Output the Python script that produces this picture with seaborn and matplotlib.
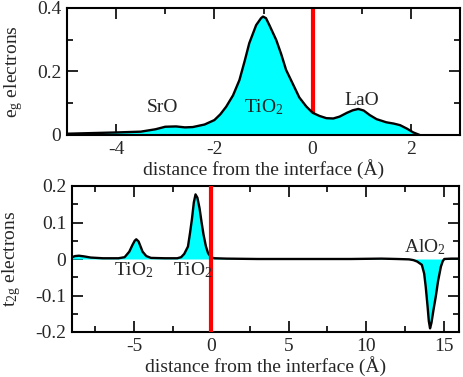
import numpy as np
import pandas as pd
import matplotlib
matplotlib.use("Agg")
import matplotlib.pyplot as plt
import seaborn as sns
from matplotlib.ticker import MultipleLocator, FuncFormatter

sns.set_style("ticks")
plt.rcParams['font.family'] = ['Liberation Serif', 'DejaVu Serif']
plt.rcParams['mathtext.fontset'] = 'custom'
plt.rcParams['mathtext.rm'] = 'Liberation Serif'
plt.rcParams['mathtext.it'] = 'Liberation Serif:italic'

# e_g electrons (top panel)
eg_x = [-5.0, -4.5, -4.0, -3.5, -3.2, -3.0, -2.78, -2.6, -2.44, -2.2, -2.0, -1.88, -1.76, -1.62,
        -1.49, -1.38, -1.29, -1.15, -1.05, -1.01, -0.95, -0.88, -0.74, -0.64, -0.54, -0.4,
        -0.27, -0.13, 0.0, 0.14, 0.28, 0.42, 0.55, 0.7, 0.82, 0.93, 1.04, 1.16, 1.3, 1.5,
        1.65, 1.78, 1.92, 2.05, 2.18]
eg_y = [0.004, 0.006, 0.008, 0.0105, 0.018, 0.026, 0.027, 0.024, 0.025, 0.033, 0.047, 0.065,
        0.089, 0.125, 0.173, 0.235, 0.289, 0.346, 0.368, 0.373, 0.368, 0.346, 0.299, 0.255,
        0.205, 0.16, 0.118, 0.09, 0.07, 0.06, 0.053, 0.052, 0.058, 0.07, 0.078, 0.082, 0.077,
        0.063, 0.05, 0.04, 0.036, 0.031, 0.02, 0.008, 0.0]

# t2g electrons (bottom panel)
t2g_x = [-9.0, -8.8, -8.55, -8.2, -7.8, -7.0, -6.0, -5.6, -5.3, -5.1, -4.95, -4.85, -4.7,
         -4.55, -4.44, -4.2, -3.9, -3.0, -2.2, -1.95, -1.75, -1.51, -1.38, -1.25, -1.13,
         -1.02, -0.9, -0.76, -0.62, -0.5, -0.35, -0.21, 0.0, 0.2, 1.0, 3.0, 6.0, 9.0, 11.0,
         12.0, 12.77, 13.05, 13.3, 13.6, 13.75, 13.85, 13.97, 14.05, 14.13, 14.22, 14.35,
         14.5, 14.65, 14.83, 14.95, 15.05, 15.5, 16.0]
t2g_y = [0.005, 0.008, 0.009, 0.007, 0.004, 0.002, 0.002, 0.005, 0.02, 0.038, 0.05, 0.054,
         0.048, 0.032, 0.02, 0.008, 0.003, 0.002, 0.002, 0.005, 0.014, 0.034, 0.07, 0.11,
         0.155, 0.177, 0.168, 0.139, 0.098, 0.066, 0.035, 0.016, 0.004, 0.002, 0.001, 0.0,
         0.0, 0.0, 0.001, 0.0, -0.001, -0.003, -0.007, -0.016, -0.04, -0.076, -0.13, -0.17,
         -0.19, -0.175, -0.14, -0.103, -0.06, -0.021, -0.006, 0.0, 0.001, 0.001]

top_labels = [("SrO", -3.05, 0.088), ("TiO$_2$", -1.0, 0.088), ("LaO", 1.0, 0.11)]
bot_labels = [("TiO$_2$", -5.0, -0.03), ("TiO$_2$", -1.2, -0.03), ("AlO$_2$", 13.8, 0.033)]

W, H = 463, 377
fig = plt.figure(figsize=(W / 100, H / 100), dpi=100)
ax1 = fig.add_axes([67 / W, 1 - 135 / H, (460 - 67) / W, (135 - 8) / H])
ax2 = fig.add_axes([72 / W, 1 - 332 / H, (459 - 72) / W, (332 - 186) / H])

fs = 14
cyan = "#00ffff"

def fmt(v, pos):
    if abs(v) < 1e-9:
        return "0"
    return ("%g" % v)

def style(ax, xmaj, xmin, ymaj, ymin):
    ax.xaxis.set_major_locator(MultipleLocator(xmaj))
    ax.xaxis.set_minor_locator(MultipleLocator(xmin))
    ax.yaxis.set_major_locator(MultipleLocator(ymaj))
    ax.yaxis.set_minor_locator(MultipleLocator(ymin))
    ax.yaxis.set_major_formatter(FuncFormatter(fmt))
    ax.xaxis.set_major_formatter(FuncFormatter(fmt))
    ax.tick_params(which='both', direction='in', top=True, right=True, labelsize=fs,
                   width=1.2, color='black', pad=4)
    ax.tick_params(which='major', length=8)
    ax.tick_params(which='minor', length=4)
    for s in ax.spines.values():
        s.set_linewidth(1.5)
        s.set_visible(True)
        s.set_color('black')

# top
df1 = pd.DataFrame({"x": eg_x, "y": eg_y})
ax1.axvline(0, color='red', lw=3, zorder=1)
ax1.fill_between(eg_x, eg_y, 0, color=cyan, zorder=2, lw=0)
sns.lineplot(data=df1, x="x", y="y", ax=ax1, color='black', lw=1.7, zorder=3)
ax1.set_xlim(-5, 3)
ax1.set_ylim(0, 0.4)
style(ax1, 2, 1, 0.2, 0.1)
ax1.set_xlabel("distance from the interface (Å)", fontsize=fs, labelpad=1)
ax1.set_ylabel("e$_\\mathrm{g}$ electrons", fontsize=fs)
ax1.yaxis.set_label_coords(-(67 - 25) / (460 - 67), 0.5)
for t, x, y in top_labels:
    ax1.text(x, y, t, fontsize=fs, ha='center', va='center', zorder=4)

# bottom
df2 = pd.DataFrame({"x": t2g_x, "y": t2g_y})
ax2.fill_between(t2g_x, t2g_y, 0, color=cyan, zorder=2, lw=0)
sns.lineplot(data=df2, x="x", y="y", ax=ax2, color='black', lw=1.7, zorder=3)
ax2.axvline(0, color='red', lw=3, zorder=4)
ax2.set_xlim(-9, 16)
ax2.set_ylim(-0.2, 0.2)
style(ax2, 5, 2.5, 0.1, 0.05)
ax2.set_xlabel("distance from the interface (Å)", fontsize=fs, labelpad=1)
ax2.set_ylabel("t$_\\mathrm{2g}$ electrons", fontsize=fs)
ax2.yaxis.set_label_coords(-(72 - 23) / (459 - 72), 0.5)
for t, x, y in bot_labels:
    ax2.text(x, y, t, fontsize=fs, ha='center', va='center', zorder=5)

fig.savefig("out.png", dpi=100)
